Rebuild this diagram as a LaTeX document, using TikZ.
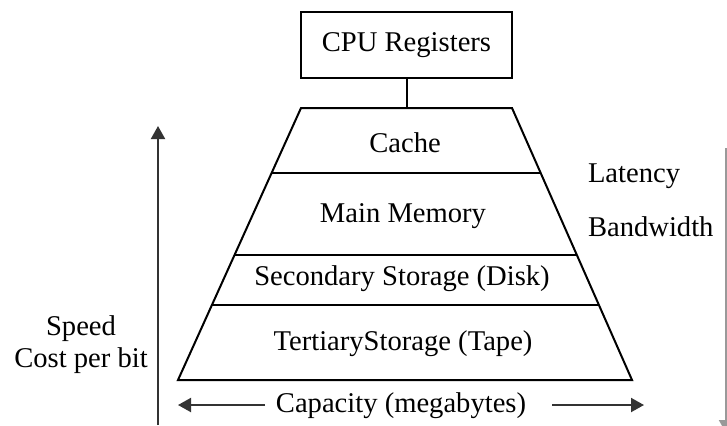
\documentclass[tikz,border=0pt]{standalone}
\usepackage{fontspec}
\setmainfont{Liberation Serif}
\usetikzlibrary{arrows.meta}
\begin{document}
\begin{tikzpicture}
      [x=0.5pt,y=-0.5pt,line width=1pt,
      every node/.style={font=\fontsize{14.3}{16}\selectfont},
      level node/.style={inner sep=0pt},
      reg node/.style={draw,minimum width=105.5pt,minimum height=33pt},
      axis arrow/.style={-{Triangle[length=6.5pt,width=7pt]},black!80}]
      \clip (0,0) rectangle (727,425);
      % CPU registers on top
      \node[reg node] (cpu) at (406.5,45) {CPU Registers};
      % corners of the pyramid
      \coordinate (tl) at (301,108);
      \coordinate (tr) at (512,108);
      \coordinate (bl) at (178,380);
      \coordinate (br) at (632,380);
      \draw (cpu.south) -- (cpu.south |- tl);
      \draw (tl) -- (tr) -- (br) -- (bl) -- cycle;
      \draw (271.6,173) -- (540.7,173);
      \draw (234.5,255) -- (576.8,255);
      \draw (212,305) -- (599,305);
      \node[level node] (cache) at (405,143) {Cache};
      \node[level node] (mem) at (403,216) {Main Memory};
      \node[level node] (disk) at (402,279) {Secondary Storage (Disk)};
      \node[level node] (tape) at (403,344) {TertiaryStorage (Tape)};
      % labels at the sides
      \node[level node,anchor=west] (lat) at (587,176) {Latency};
      \node[level node,anchor=west] (bw) at (587,227) {Bandwidth};
      \node[level node,align=center] (speed) at (81,345) {Speed\\Cost per bit};
      \node[level node] (capa) at (401,406) {Capacity (megabytes)};
      % axes
      \coordinate (capL) at (178,405);
      \coordinate (capR) at (644,405);
      \coordinate (ybot) at (158,425);
      \coordinate (ytop) at (158,126);
      \coordinate (rtop) at (726,148);
      \coordinate (rbot) at (726,433);
      \draw[axis arrow] (265,405) -- (capL);
      \draw[axis arrow] (552,405) -- (capR);
      \draw[axis arrow] (ybot) -- (ytop);
      \draw[axis arrow,black!40] (rtop) -- (rbot);
    \end{tikzpicture}
\end{document}
